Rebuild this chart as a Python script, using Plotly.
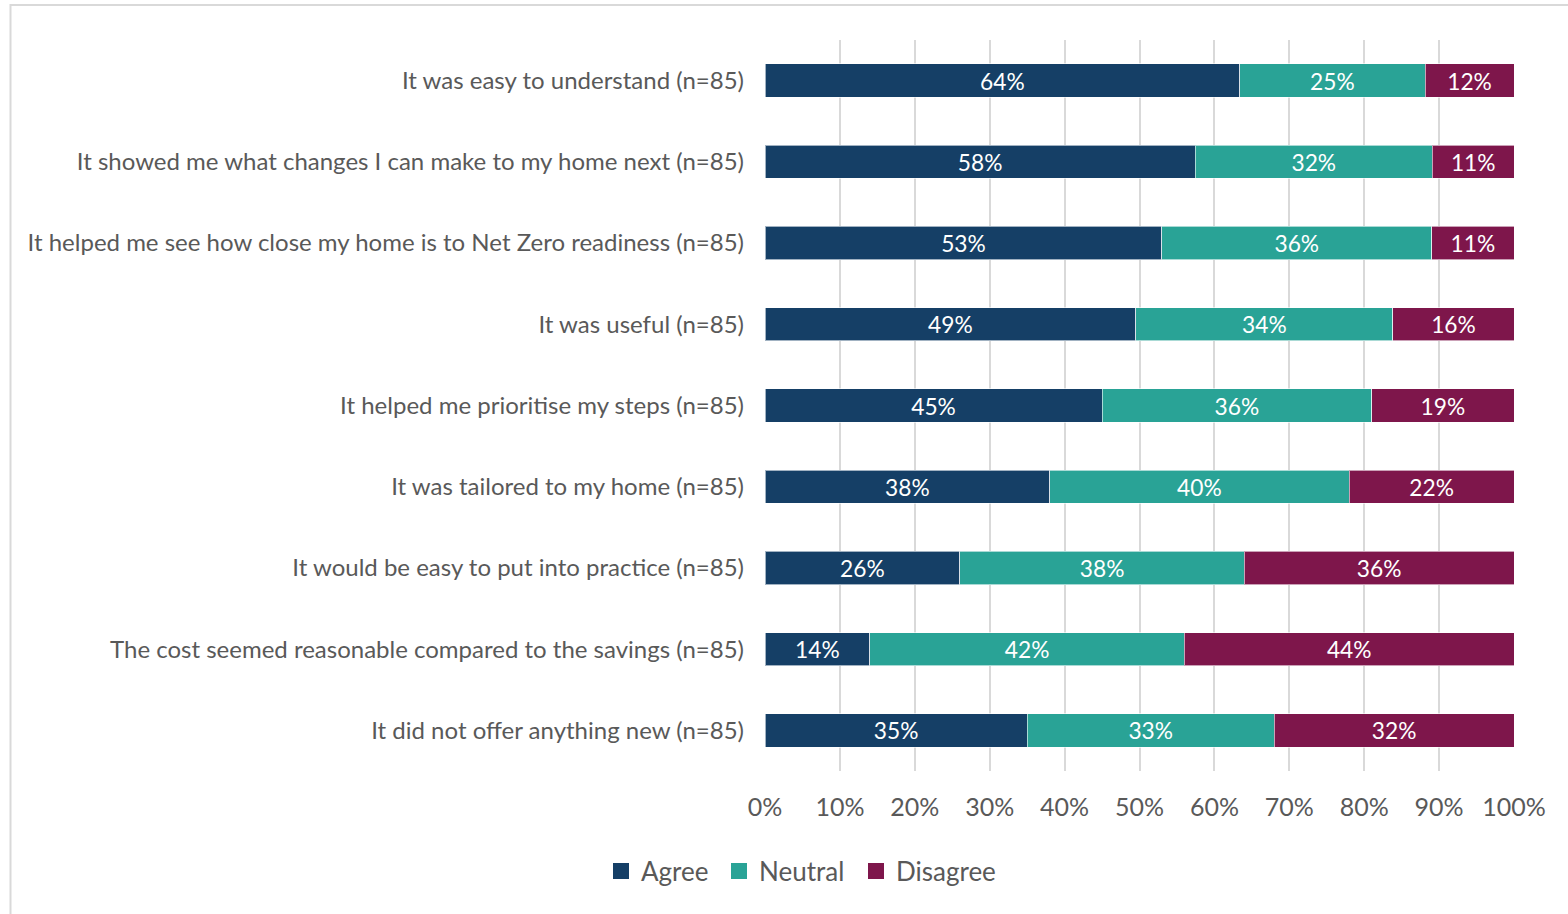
import plotly.graph_objects as go

# Survey statements, top to bottom
statements = [
    "It was easy to understand (n=85)",
    "It showed me what changes I can make to my home next (n=85)",
    "It helped me see how close my home is to Net Zero readiness (n=85)",
    "It was useful (n=85)",
    "It helped me prioritise my steps (n=85)",
    "It was tailored to my home (n=85)",
    "It would be easy to put into practice (n=85)",
    "The cost seemed reasonable compared to the savings (n=85)",
    "It did not offer anything new (n=85)",
]
agree = [64, 58, 53, 49, 45, 38, 26, 14, 35]
neutral = [25, 32, 36, 34, 36, 40, 38, 42, 33]
disagree = [12, 11, 11, 16, 19, 22, 36, 44, 32]
x_ticks = [0, 10, 20, 30, 40, 50, 60, 70, 80, 90, 100]

FONT = "Lato"
series = [
    ("Agree", agree, "#153F66"),
    ("Neutral", neutral, "#29A396"),
    ("Disagree", disagree, "#7E164B"),
]

W, H = 1568, 914
L, R, T, B = 765, 54, 40, 143
PW, PH = W - L - R, H - T - B

fig = go.Figure()
for name, vals, color in series:
    fig.add_trace(go.Bar(
        y=statements,
        x=vals,
        name=name,
        orientation="h",
        showlegend=False,
        marker=dict(color=color, line=dict(color="rgba(255,255,255,0.6)", width=1)),
        text=[f"{v}%" for v in vals],
        textposition="inside",
        insidetextanchor="middle",
        textfont=dict(color="white", size=25, family=FONT),
        cliponaxis=False,
    ))

# legend: one small legend per series so the spacing can be set
legend_ids = ["legend", "legend2", "legend3"]
legend_left_px = [601, 719, 856]
for (name, vals, color), lid in zip(series, legend_ids):
    fig.add_trace(go.Scatter(
        x=[None], y=[None], mode="markers", name=name,
        marker=dict(symbol="square", size=16, color=color),
        showlegend=True, legend=lid,
    ))

legend_style = {}
for lid, px in zip(legend_ids, legend_left_px):
    legend_style[lid] = dict(
        orientation="h",
        x=(px - L) / PW, xanchor="left",
        y=-(871 - (H - B)) / PH, yanchor="middle",
        font=dict(size=26, color="#595959", family=FONT),
        itemwidth=30,
        bgcolor="rgba(0,0,0,0)",
    )

fig.update_layout(
    width=W, height=H,
    barmode="stack",
    barnorm="percent",
    bargap=0.59,
    plot_bgcolor="white",
    paper_bgcolor="white",
    margin=dict(l=L, r=R, t=T, b=B, autoexpand=False),
    font=dict(family=FONT, color="#595959"),
    uniformtext=dict(minsize=10, mode="show"),
    **legend_style,
)
fig.update_xaxes(
    range=[0, 100.0001],
    tickvals=x_ticks,
    ticktext=[f"{t}%" for t in x_ticks],
    showgrid=True, gridcolor="#D9D9D9", gridwidth=2,
    zeroline=False, showline=False,
    tickfont=dict(size=25, color="#595959", family=FONT),
    ticks="", ticklabelstandoff=19,
)
fig.update_yaxes(
    categoryorder="array",
    categoryarray=statements[::-1],
    showgrid=False, zeroline=False, showline=False,
    tickfont=dict(size=24, color="#595959", family=FONT),
    ticks="", ticklabelstandoff=20,
)

# light frame around the chart area
fig.add_shape(
    type="rect", xref="paper", yref="paper",
    x0=(10.5 - L) / PW, x1=1.2,
    y0=-0.5, y1=1 + (T - 5) / PH,
    line=dict(color="#D9D9D9", width=2),
    fillcolor="rgba(0,0,0,0)", layer="below",
)

fig.write_html("out.html")
